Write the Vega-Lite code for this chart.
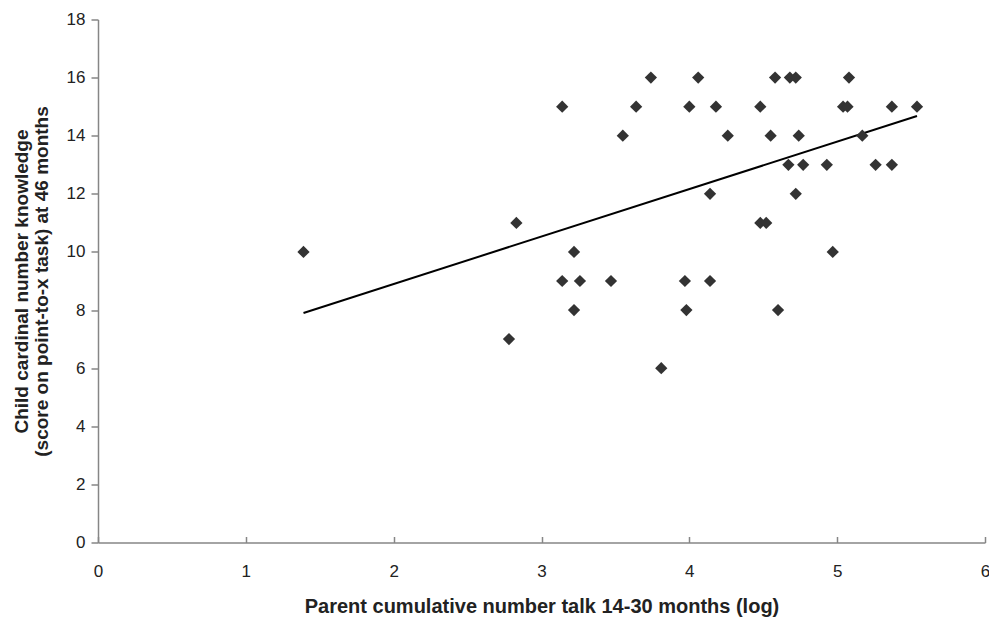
{
  "$schema": "https://vega.github.io/schema/vega-lite/v6.json",
  "width": 887,
  "height": 523,
  "autosize": "none",
  "padding": {"left": 98, "top": 19.5, "right": 4, "bottom": 78.5},
  "background": "white",
  "config": {"view": {"stroke": null}, "font": "Liberation Sans"},
  "datasets": {
    "points": [
      {"x": 1.39, "y": 10}, {"x": 2.78, "y": 7}, {"x": 2.83, "y": 11}, {"x": 3.14, "y": 15},
      {"x": 3.14, "y": 9}, {"x": 3.22, "y": 10}, {"x": 3.22, "y": 8}, {"x": 3.26, "y": 9},
      {"x": 3.47, "y": 9}, {"x": 3.55, "y": 14}, {"x": 3.64, "y": 15}, {"x": 3.74, "y": 16},
      {"x": 3.81, "y": 6}, {"x": 3.97, "y": 9}, {"x": 3.98, "y": 8}, {"x": 4.0, "y": 15},
      {"x": 4.06, "y": 16}, {"x": 4.14, "y": 12}, {"x": 4.14, "y": 9}, {"x": 4.18, "y": 15},
      {"x": 4.26, "y": 14}, {"x": 4.48, "y": 15}, {"x": 4.48, "y": 11}, {"x": 4.52, "y": 11},
      {"x": 4.55, "y": 14}, {"x": 4.58, "y": 16}, {"x": 4.6, "y": 8}, {"x": 4.67, "y": 13},
      {"x": 4.68, "y": 16}, {"x": 4.72, "y": 16}, {"x": 4.72, "y": 12}, {"x": 4.74, "y": 14},
      {"x": 4.77, "y": 13}, {"x": 4.93, "y": 13}, {"x": 4.97, "y": 10}, {"x": 5.04, "y": 15},
      {"x": 5.07, "y": 15}, {"x": 5.08, "y": 16}, {"x": 5.17, "y": 14}, {"x": 5.26, "y": 13},
      {"x": 5.37, "y": 15}, {"x": 5.37, "y": 13}, {"x": 5.54, "y": 15}
    ],
    "trend": [
      {"x": 1.39, "y": 7.9},
      {"x": 5.54, "y": 14.68}
    ]
  },
  "layer": [
    {
      "data": {"name": "trend"},
      "mark": {"type": "line", "color": "black", "strokeWidth": 2},
      "encoding": {
        "x": {"field": "x", "type": "quantitative"},
        "y": {"field": "y", "type": "quantitative"}
      }
    },
    {
      "data": {"name": "points"},
      "mark": {"type": "point", "shape": "diamond", "filled": true, "color": "#333333", "opacity": 1, "size": 150},
      "encoding": {
        "x": {
          "field": "x", "type": "quantitative",
          "scale": {"domain": [0, 6], "nice": false, "zero": false},
          "axis": {
            "title": "Parent cumulative number talk 14-30 months (log)",
            "values": [0, 1, 2, 3, 4, 5, 6],
            "format": "d",
            "labelFlush": false,
            "grid": false,
            "domainColor": "#868686",
            "domainWidth": 1.5,
            "tickColor": "#868686",
            "tickWidth": 1.5,
            "tickSize": -6,
            "labelPadding": 27,
            "labelFontSize": 17,
            "labelColor": "#222222",
            "labelFont": "Liberation Sans",
            "titleFont": "Liberation Sans",
            "titleFontSize": 20,
            "titleFontWeight": "bold",
            "titleColor": "#222222",
            "titlePadding": 17
          }
        },
        "y": {
          "field": "y", "type": "quantitative",
          "scale": {"domain": [0, 18], "nice": false, "zero": false},
          "axis": {
            "title": ["Child cardinal number knowledge", "(score on point-to-x task) at 46 months"],
            "values": [0, 2, 4, 6, 8, 10, 12, 14, 16, 18],
            "grid": false,
            "domainColor": "#868686",
            "domainWidth": 1.5,
            "tickColor": "#868686",
            "tickWidth": 1.5,
            "tickSize": 7,
            "labelPadding": 6,
            "labelFontSize": 17,
            "labelColor": "#222222",
            "labelFont": "Liberation Sans",
            "titleFont": "Liberation Sans",
            "titleFontSize": 19,
            "titleFontWeight": "bold",
            "titleColor": "#222222",
            "titleLineHeight": 20,
            "titlePadding": 15
          }
        }
      }
    }
  ]
}
